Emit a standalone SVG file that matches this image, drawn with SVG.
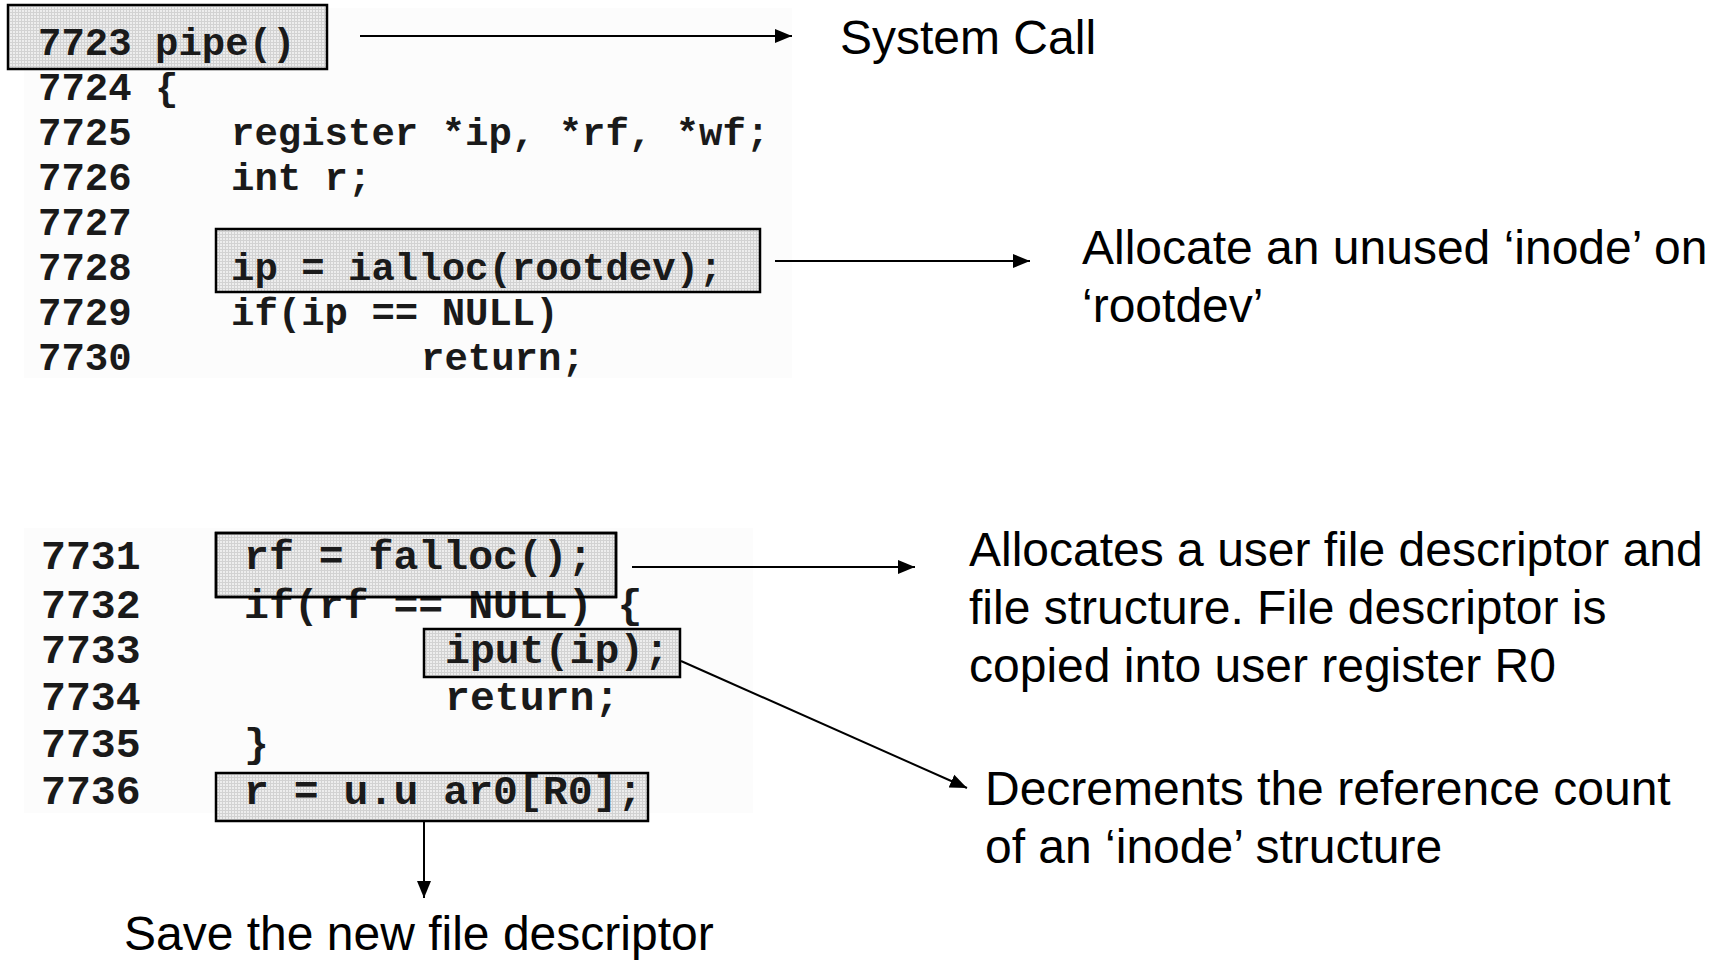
<svg xmlns="http://www.w3.org/2000/svg" width="1722" height="963" viewBox="0 0 1722 963">
  <style>
    .code { font-family: "Liberation Mono", "DejaVu Sans Mono", monospace; font-weight: bold; fill: #1a1a1a; }
    .top { font-size: 39px; }
    .bot { font-size: 41.5px; }
    .note { font-family: "Liberation Sans", Arial, sans-serif; font-size: 48px; fill: #000; }
    .hl { fill: url(#dots); stroke: #000; stroke-width: 2.5; }
    .edge { fill: none; stroke: #000; stroke-width: 2.5; }
    .panel { fill: #fcfcfc; stroke: none; }
    .conn { stroke: #000; stroke-width: 2; fill: none; marker-end: url(#arrow); }
  </style>
  <defs>
    <pattern id="dots" width="3" height="3" patternUnits="userSpaceOnUse">
      <rect width="3" height="3" fill="#ededed"/>
      <rect width="3" height="1" fill="#d2d2d2"/>
      <rect width="1" height="3" fill="#d2d2d2"/>
    </pattern>
    <marker id="arrow" markerWidth="18" markerHeight="16" refX="17" refY="8" orient="auto" markerUnits="userSpaceOnUse">
      <path d="M0,1 L17,8 L0,15 Z" fill="#000"/>
    </marker>
  </defs>

  <rect width="1722" height="963" fill="#fff"/>

  <!-- code listing, first part -->
  <g id="listing-top">
    <rect class="panel" x="24" y="8" width="768" height="370"/>
    <text class="code top" x="38" y="100">7724 {</text>
    <text class="code top" x="38" y="145">7725</text>
    <text class="code top" x="231" y="145">register *ip, *rf, *wf;</text>
    <text class="code top" x="38" y="190">7726</text>
    <text class="code top" x="231" y="190">int r;</text>
    <text class="code top" x="38" y="235">7727</text>
    <text class="code top" x="38" y="280">7728</text>
    <text class="code top" x="38" y="325">7729</text>
    <text class="code top" x="231" y="325">if(ip == NULL)</text>
    <text class="code top" x="38" y="370">7730</text>
    <text class="code top" x="421" y="370">return;</text>
  </g>

  <g id="pipe">
    <rect class="hl" x="8" y="5" width="319" height="64"/>
    <text class="code top" x="38" y="55">7723 pipe()</text>
  </g>

  <g id="ialloc">
    <rect class="hl" x="216" y="229" width="544" height="63"/>
    <text class="code top" x="231" y="280">ip = ialloc(rootdev);</text>
  </g>

  <!-- code listing, second part -->
  <rect class="panel" x="24" y="528" width="729" height="285"/>

  <g id="falloc">
    <rect class="hl" x="216" y="533" width="400" height="64"/>
    <text class="code bot" x="244" y="569">rf = falloc();</text>
  </g>

  <g id="iput">
    <rect class="hl" x="424" y="629" width="256" height="48"/>
    <text class="code bot" x="445" y="663">iput(ip);</text>
  </g>

  <g id="ar0">
    <rect class="hl" x="216" y="773" width="432" height="48"/>
    <text class="code bot" x="244" y="804">r = u.u ar0[R0];</text>
  </g>

  <g id="listing-bottom">
    <text class="code bot" x="41" y="569">7731</text>
    <text class="code bot" x="41" y="618">7732</text>
    <text class="code bot" x="244" y="618">if(rf == NULL) {</text>
    <text class="code bot" x="41" y="663">7733</text>
    <text class="code bot" x="41" y="710">7734</text>
    <text class="code bot" x="445" y="710">return;</text>
    <text class="code bot" x="41" y="757">7735</text>
    <text class="code bot" x="244" y="757">}</text>
    <text class="code bot" x="41" y="804">7736</text>
    <!-- outline of the falloc highlight stays above the following line -->
    <rect class="edge" x="216" y="533" width="400" height="64"/>
  </g>

  <!-- annotations -->
  <g id="note-syscall">
    <text class="note" x="840" y="54">System Call</text>
  </g>
  <g id="note-ialloc">
    <text class="note" x="1082" y="264">Allocate an unused ‘inode’ on</text>
    <text class="note" x="1082" y="322">‘rootdev’</text>
  </g>
  <g id="note-falloc">
    <text class="note" x="969" y="566">Allocates a user file descriptor and</text>
    <text class="note" x="969" y="624">file structure. File descriptor is</text>
    <text class="note" x="969" y="682">copied into user register R0</text>
  </g>
  <g id="note-iput">
    <text class="note" x="985" y="805">Decrements the reference count</text>
    <text class="note" x="985" y="863">of an ‘inode’ structure</text>
  </g>
  <g id="note-save">
    <text class="note" x="124" y="950">Save the new file descriptor</text>
  </g>

  <!-- connectors -->
  <g id="connectors">
    <line class="conn" x1="360" y1="36" x2="792" y2="36"/>
    <line class="conn" x1="775" y1="261" x2="1030" y2="261"/>
    <line class="conn" x1="632" y1="567" x2="915" y2="567"/>
    <line class="conn" x1="681" y1="661" x2="967" y2="788"/>
    <line class="conn" x1="424" y1="821" x2="424" y2="898"/>
  </g>
</svg>
